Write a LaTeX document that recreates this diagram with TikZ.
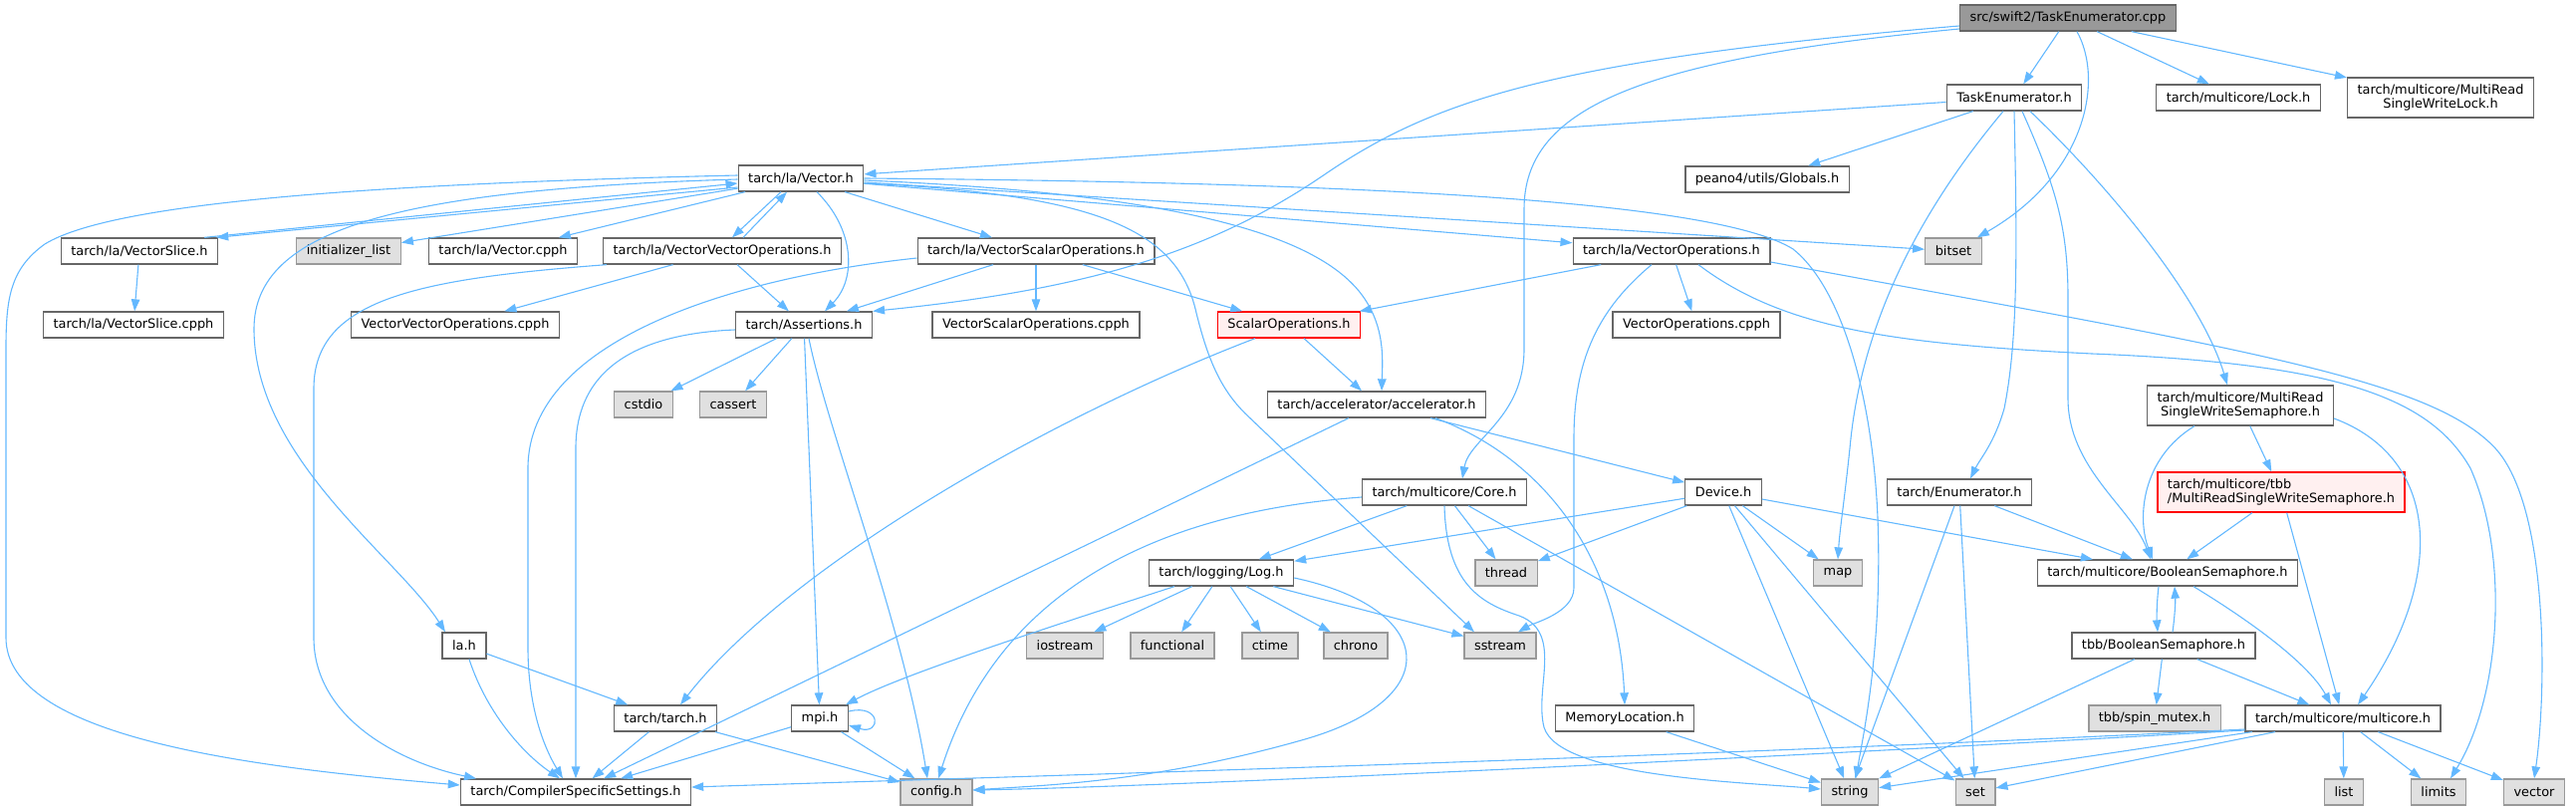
\documentclass[tikz,border=0pt]{standalone}
\usepackage{fontspec}
\setmainfont{DejaVu Sans}
\usetikzlibrary{arrows.meta}
\definecolor{edgeblue}{HTML}{63B8FF}
\definecolor{hdrborder}{HTML}{666666}
\definecolor{sysfill}{HTML}{E0E0E0}
\definecolor{sysborder}{HTML}{999999}
\definecolor{rootfill}{HTML}{999999}
\definecolor{warnfill}{HTML}{FFF0F0}

\begin{document}
\begin{tikzpicture}[
    x=1pt, y=-1pt,
    font=\fontsize{12.9}{14.5}\selectfont,
    hdr/.style={
        draw=hdrborder,
        fill=white,
        rectangle,
        line width=1.3pt,
        inner xsep=10pt,
        inner ysep=0pt,
        minimum height=26pt
    },
    sys/.style={hdr, draw=sysborder, fill=sysfill},
    rootfile/.style={hdr, fill=rootfill},
    warn/.style={hdr, draw=red, fill=warnfill},
    twoline/.style={minimum height=40pt},
    dep/.style={
        -{Triangle[length=12pt,width=8.5pt]},
        line width=1.1pt,
        draw=edgeblue
    }
]

\useasboundingbox (0,0) rectangle (2586,813);

% ============================================================
% Project headers
% ============================================================

\node[rootfile] (root) at (2076,18) {src/swift2/TaskEnumerator.cpp};

\node[hdr] (teh)      at (2022,98)  {TaskEnumerator.h};
\node[hdr] (lock)     at (2247,98)  {tarch/multicore/Lock.h};
\node[hdr, twoline, align=center] (mrswlock) at (2450,98)
    {tarch/multicore/MultiRead\\SingleWriteLock.h};

\node[hdr] (vec)      at (804,179)  {tarch/la/Vector.h};
\node[hdr] (glob)     at (1774,180) {peano4/utils/Globals.h};

\node[hdr] (vslice)   at (140,252)  {tarch/la/VectorSlice.h};
\node[hdr] (vcpph)    at (505,252)  {tarch/la/Vector.cpph};
\node[hdr] (vvo)      at (725,252)  {tarch/la/VectorVectorOperations.h};
\node[hdr] (vso)      at (1040,252) {tarch/la/VectorScalarOperations.h};
\node[hdr] (vo)       at (1678,252) {tarch/la/VectorOperations.h};

\node[hdr]  (vscpph)  at (134,326)  {tarch/la/VectorSlice.cpph};
\node[hdr]  (vvocpph) at (457,326)  {VectorVectorOperations.cpph};
\node[hdr]  (assert)  at (807,326)  {tarch/Assertions.h};
\node[hdr]  (vsocpph) at (1040,326) {VectorScalarOperations.cpph};
\node[warn] (scalops) at (1294,326) {ScalarOperations.h};
\node[hdr]  (vocpph)  at (1703,326) {VectorOperations.cpph};

\node[hdr] (accel)    at (1382,406) {tarch/accelerator/accelerator.h};
\node[hdr, twoline, align=center] (mrswsem) at (2249,407)
    {tarch/multicore/MultiRead\\SingleWriteSemaphore.h};

\node[hdr]  (core)    at (1450,494) {tarch/multicore/Core.h};
\node[hdr]  (device)  at (1730,494) {Device.h};
\node[hdr]  (enum)    at (1967,494) {tarch/Enumerator.h};
\node[warn, twoline, align=left] (tbbmrsw) at (2290,494)
    {tarch/multicore/tbb\\/MultiReadSingleWriteSemaphore.h};

\node[hdr] (log)      at (1226,575) {tarch/logging/Log.h};
\node[hdr] (boolsem)  at (2176,575) {tarch/multicore/BooleanSemaphore.h};

\node[hdr] (lah)      at (466,648)  {la.h};
\node[hdr] (tbbbool)  at (2172,648) {tbb/BooleanSemaphore.h};

\node[hdr] (tarchh)   at (668,721)  {tarch/tarch.h};
\node[hdr] (mpi)      at (823,721)  {mpi.h};
\node[hdr] (memloc)   at (1631,721) {MemoryLocation.h};
\node[hdr] (multicore) at (2352,721) {tarch/multicore/multicore.h};

\node[hdr] (css)      at (578,795)  {tarch/CompilerSpecificSettings.h};

% ============================================================
% System headers
% ============================================================

\foreach \n/\x/\y/\t in {initl/350/252/initializer\_list, bitset/1961/252/bitset,
    cstdio/646/406/cstdio, cassert/736/406/cassert,
    thread/1512/575/thread, map/1845/575/map,
    iostream/1069/648/iostream, functional/1177/648/functional,
    ctime/1275/648/ctime, chrono/1361/648/chrono, sstream/1506/648/sstream,
    spin/2163/721/{tbb/spin\_mutex.h},
    config/940/795/config.h, string/1857/795/string, set/1983/795/set,
    list/2353/795/list, limits/2448/795/limits, vector/2544/795/vector} {
    \node[sys] (\n) at (\x,\y) {\t};
}

% ============================================================
% Straight includes
% ============================================================

\foreach \a/\b in {root/teh, root/lock, root/mrswlock, teh/glob, teh/vec,
    vec/initl, vec/vcpph, vec/vso, vec/vo, vec/bitset,
    vslice/vscpph, vvo/vvocpph, vvo/assert,
    vso/vsocpph, vso/scalops, vso/assert, vo/scalops, vo/vocpph,
    scalops/accel, assert/cstdio, assert/cassert, assert/mpi,
    accel/device, accel/css, core/log, core/thread, core/set,
    device/log, device/thread, device/map, device/string, device/set, device/boolsem,
    enum/string, enum/set, enum/boolsem,
    mrswsem/tbbmrsw, tbbmrsw/boolsem, tbbmrsw/multicore,
    tbbbool/spin, tbbbool/multicore, tbbbool/string,
    multicore/list, multicore/limits, multicore/vector, multicore/string, multicore/set,
    memloc/string, log/iostream, log/functional, log/ctime, log/chrono, log/sstream,
    mpi/css, mpi/config, tarchh/css, tarchh/config, lah/tarchh} {
    \draw[dep] (\a) -- (\b);
}

% ============================================================
% Curved includes
% ============================================================

% from the source file
\draw[dep] ([xshift=9pt]root.south) .. controls (2112,80) and (2095,175) .. ([xshift=-5pt]bitset.north east);
\draw[dep] ([yshift=-8pt]root.west) .. controls (1560,60) and (1440,100) .. (1330,175)
    .. controls (1220,250) and (1100,290) .. (assert.north east);
\draw[dep] ([yshift=-11pt]root.west) .. controls (1640,60) and (1530,110) .. (1530,210) -- (1530,350)
    .. controls (1530,420) and (1475,440) .. ([xshift=18pt]core.north);

% TaskEnumerator.h
\draw[dep] ([xshift=-11pt]teh.south) .. controls (1920,220) and (1870,330) .. (1858,440)
    .. controls (1852,500) and (1847,530) .. (map.north);
\draw[dep] ([xshift=8pt]teh.south) .. controls (2065,190) and (2076,230) .. (2076,300) -- (2076,400)
    .. controls (2076,470) and (2140,510) .. ([xshift=-17pt]boolsem.north);
\draw[dep] (teh.south) .. controls (2025,250) and (2026,340) .. (2012,410)
    .. controls (2002,445) and (1988,460) .. ([xshift=11pt]enum.north);
\draw[dep] ([xshift=16pt]teh.south) .. controls (2120,190) and (2210,300) .. ([xshift=-13pt]mrswsem.north);

% Vector.h and its cycles
\draw[dep] ([yshift=-9pt]vec.west) -- ([xshift=-2pt]vslice.north east);
\draw[dep] ([xshift=-14pt]vslice.north east) -- ([yshift=-5pt]vec.west);
\draw[dep] ([xshift=-20pt]vec.south) -- ([xshift=10pt]vvo.north);
\draw[dep] ([xshift=21pt]vvo.north) -- ([xshift=-14pt]vec.south);
\draw[dep] ([xshift=16pt]vec.south) .. controls (858,230) and (860,280) .. ([xshift=21pt]assert.north);
\draw[dep] ([yshift=3pt]vec.west) .. controls (350,185) and (110,205) .. (45,245)
    .. controls (10,270) and (6,300) .. (6,350) -- (6,640)
    .. controls (6,740) and (250,770) .. ([yshift=7pt]css.west);
\draw[dep] ([yshift=-1pt]vec.west) .. controls (400,190) and (255,230) .. (255,330)
    .. controls (255,460) and (400,560) .. ([xshift=-19pt]lah.north);
\draw[dep] (vec.east) .. controls (1350,183) and (1720,200) .. (1800,250)
    .. controls (1850,290) and (1880,400) .. (1885,520)
    .. controls (1890,650) and (1870,740) .. ([xshift=6pt]string.north);
\draw[dep] ([yshift=-5pt]vec.east) .. controls (1100,195) and (1180,230) .. (1200,310)
    .. controls (1212,360) and (1225,390) .. (1250,415) -- ([xshift=-26pt]sstream.north);
\draw[dep] ([yshift=-2pt]vec.east) .. controls (1200,195) and (1330,240) .. (1370,300)
    .. controls (1390,330) and (1388,360) .. ([xshift=5pt]accel.north);

% into CompilerSpecificSettings.h and config.h
\draw[dep] ([xshift=-116pt]vvo.south) .. controls (420,280) and (315,300) .. (315,390) -- (315,640)
    .. controls (315,720) and (400,765) .. ([xshift=-100pt]css.north);
\draw[dep] ([yshift=-7pt]vso.west) .. controls (740,278) and (530,340) .. (530,470) -- (530,650)
    .. controls (530,720) and (552,760) .. ([xshift=-13pt]css.north);
\draw[dep] ([yshift=-5pt]assert.west) .. controls (640,335) and (578,370) .. (578,450) -- (css.north);
\draw[dep] ([xshift=5pt]assert.south) .. controls (830,430) and (905,620) .. ([xshift=-9pt]config.north);
\draw[dep] ([xshift=5pt]lah.south) .. controls (490,720) and (530,760) .. ([xshift=-16pt]css.north);
\draw[dep] ([yshift=-11pt]multicore.west) .. controls (1700,760) and (1000,780) .. ([yshift=5pt]css.east);
\draw[dep] ([yshift=-12pt]multicore.west) .. controls (1700,765) and (1150,790) .. ([yshift=2pt]config.east);

% accelerator, core, logging
\draw[dep] ([xshift=-34pt]scalops.south) .. controls (1050,420) and (790,570) .. ([xshift=15pt]tarchh.north);
\draw[dep] ([xshift=59pt]accel.south) .. controls (1550,460) and (1625,560) .. (memloc.north);
\draw[dep] ([yshift=-5pt]core.west) .. controls (1150,515) and (1000,600) .. ([xshift=2pt]config.north);
\draw[dep] (core.south) .. controls (1452,585) and (1485,605) .. (1525,618)
    .. controls (1570,635) and (1540,690) .. (1550,730)
    .. controls (1565,780) and (1750,785) .. ([yshift=3pt]string.west);
\draw[dep] ([xshift=-47pt]log.south) .. controls (1020,640) and (900,680) .. ([xshift=-3pt]mpi.north east);
\draw[dep] ([yshift=-5pt]log.east) .. controls (1440,610) and (1455,700) .. (1310,742)
    .. controls (1160,785) and (1050,788) .. ([yshift=2pt]config.east);
\draw[dep] ([yshift=7pt]mpi.east) .. controls (885,706) and (885,738) .. ([yshift=-7pt]mpi.east);

% semaphores
\draw[dep] ([xshift=-46pt]mrswsem.south) .. controls (2150,460) and (2145,520) .. ([xshift=-15pt]boolsem.north);
\draw[dep] ([yshift=-13pt]mrswsem.east) .. controls (2450,460) and (2455,580) .. ([xshift=15pt]multicore.north);
\draw[dep] ([xshift=-9pt]boolsem.south) .. controls (2165,605) and (2165,620) .. ([xshift=-6pt]tbbbool.north);
\draw[dep] ([xshift=9pt]tbbbool.north) .. controls (2183,620) and (2184,605) .. ([xshift=7pt]boolsem.south);
\draw[dep] ([xshift=26pt]boolsem.south) .. controls (2270,630) and (2320,670) .. ([xshift=-12pt]multicore.north);

% VectorOperations.h
\draw[dep] ([xshift=-20pt]vo.south) .. controls (1605,310) and (1580,360) .. (1580,440) -- (1580,590)
    .. controls (1580,615) and (1540,625) .. ([xshift=18pt]sstream.north);
\draw[dep] ([xshift=27pt]vo.south) .. controls (1790,330) and (1900,345) .. (2100,355)
    .. controls (2350,365) and (2440,400) .. (2480,470)
    .. controls (2520,560) and (2510,700) .. ([xshift=12pt]limits.north);
\draw[dep] ([yshift=-11pt]vo.east) .. controls (2250,350) and (2440,380) .. (2505,450)
    .. controls (2560,510) and (2556,700) .. (vector.north);

\end{tikzpicture}
\end{document}
